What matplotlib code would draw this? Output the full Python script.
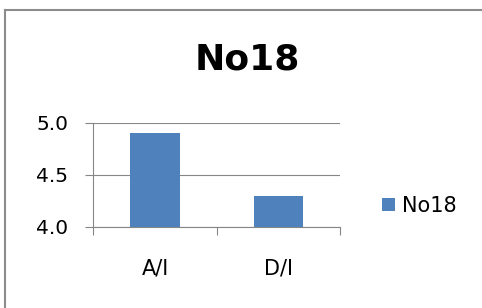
import matplotlib
matplotlib.use("Agg")
import matplotlib.pyplot as plt
from matplotlib.lines import Line2D

categories = ["A/I", "D/I"]
values = [4.9, 4.3]
series_name = "No18"
title = "No18"
yticks = [4.0, 4.5, 5.0]
ytick_labels = ["4.0", "4.5", "5.0"]

W, H = 482, 308
fig = plt.figure(figsize=(W / 100, H / 100), dpi=100)
plt.rcParams['font.family'] = ['DejaVu Sans']

left, right, top, bottom = 93.3, 340, 122.7, 226.7
ax = fig.add_axes([left / W, 1 - bottom / H, (right - left) / W, (bottom - top) / H])

gray = "#868686"
ax.bar(range(len(categories)), values, width=0.4, color="#4F81BD", zorder=3, label=series_name)
ax.set_xlim(-0.5, len(categories) - 0.5)
ax.set_ylim(4.0, 5.0)
ax.set_yticks(yticks)
ax.set_yticklabels(ytick_labels, fontsize=14.5)
ax.yaxis.grid(True, color=gray, linewidth=0.8, zorder=0)
ax.set_axisbelow(True)

ax.set_xticks(range(len(categories)))
ax.set_xticklabels(categories, fontsize=15)
ax.set_xticks([-0.5, 0.5, 1.5], minor=True)
ax.tick_params(axis='x', which='major', length=0, pad=23)
ax.tick_params(axis='x', which='minor', length=6, width=0.8, color=gray, direction='out')
ax.tick_params(axis='y', length=6, width=0.8, color=gray, direction='out', pad=12)

for s in ["top", "right"]:
    ax.spines[s].set_visible(False)
for s in ["left", "bottom"]:
    ax.spines[s].set_color(gray)
    ax.spines[s].set_linewidth(0.8)

fig.text(247.5 / W, 1 - 60 / H, title, fontsize=26, fontweight='bold', ha='center', va='center')

fig.legend(loc='center left', bbox_to_anchor=(382 / W, 1 - 206 / H), frameon=False,
           fontsize=15, handlelength=0.6, handleheight=0.6, handletextpad=0.35,
           borderpad=0, borderaxespad=0)

# chart area border (top and left visible)
fig.add_artist(Line2D([4.5 / W, 4.5 / W], [0, 1 - 9.5 / H], transform=fig.transFigure,
                      color="#8c8c8c", linewidth=1.5))
fig.add_artist(Line2D([4.5 / W, 1], [1 - 9.5 / H, 1 - 9.5 / H], transform=fig.transFigure,
                      color="#8c8c8c", linewidth=1.5))

fig.savefig("out.png", dpi=100)
